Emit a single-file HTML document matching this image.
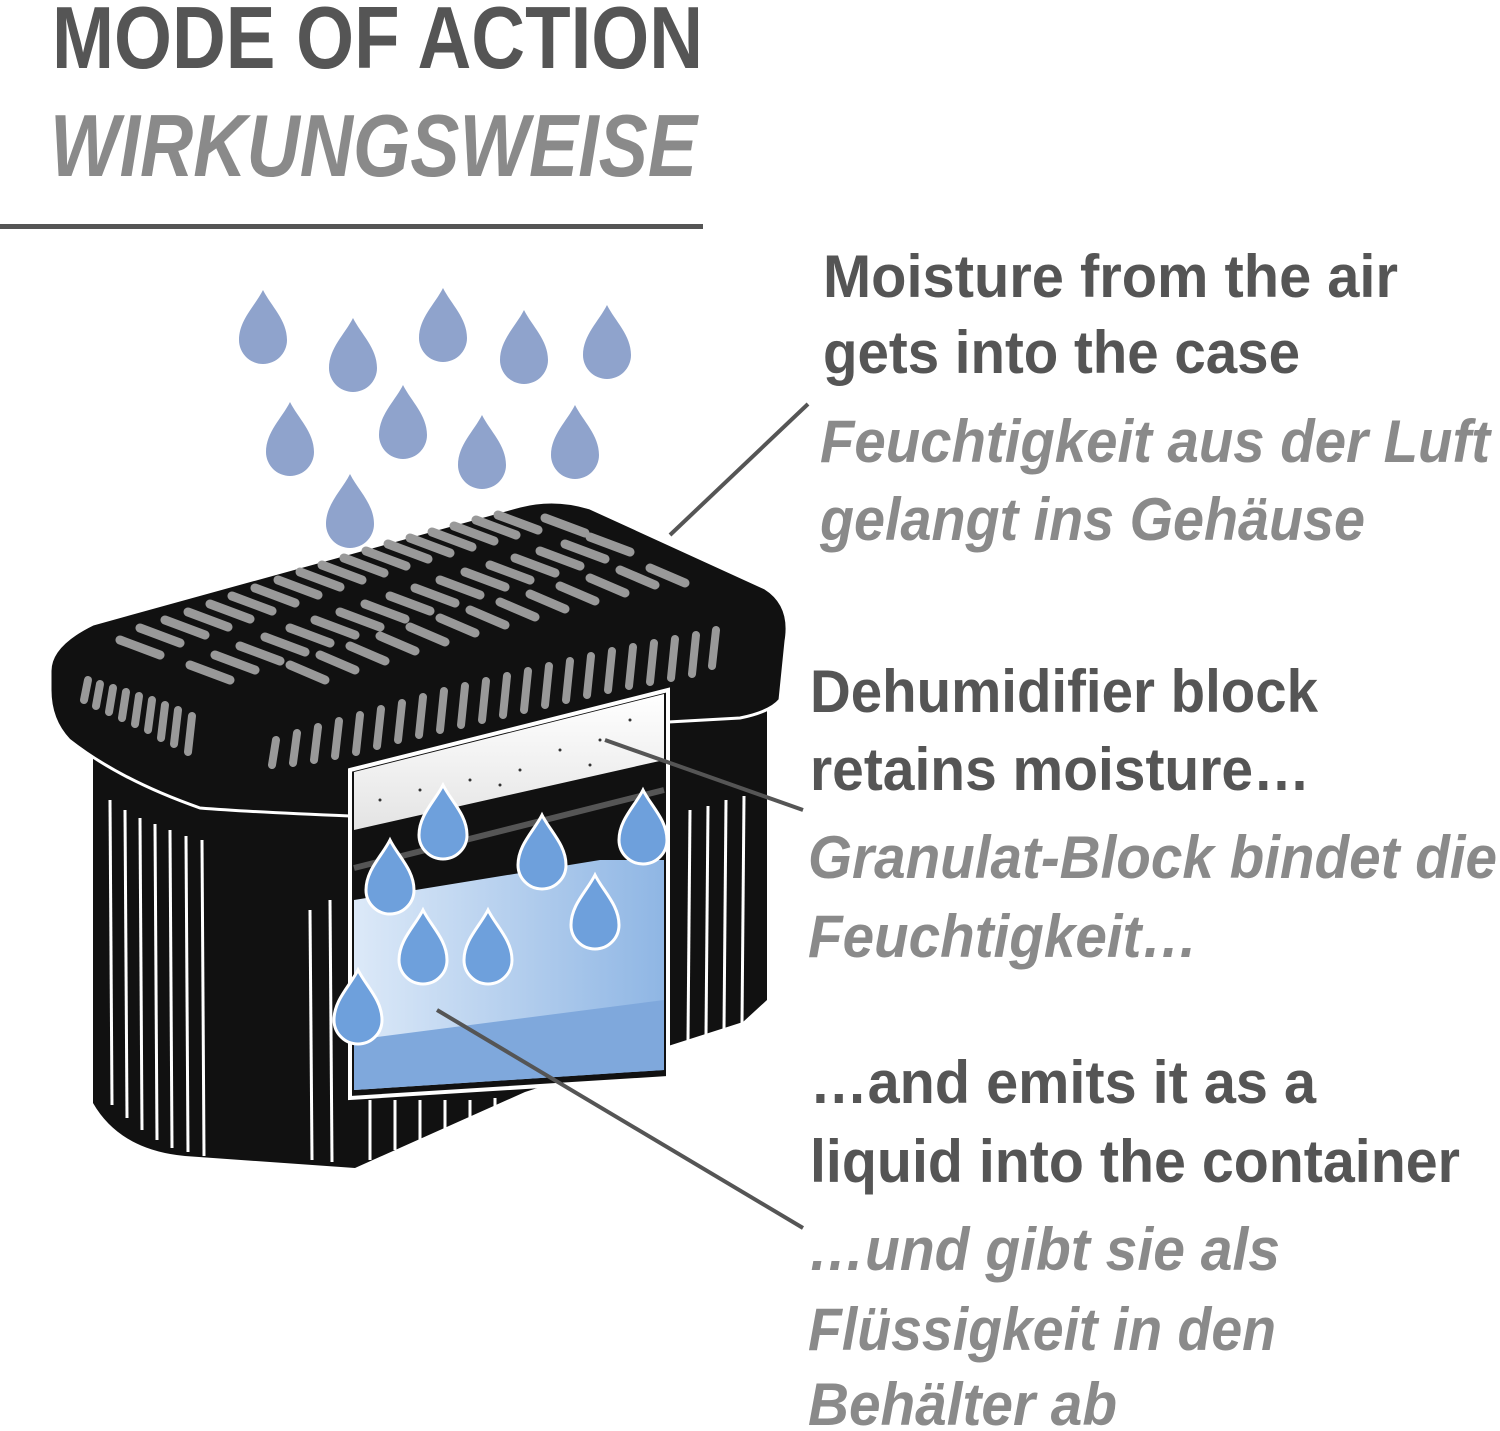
<!DOCTYPE html>
<html><head><meta charset="utf-8"><style>
html,body{margin:0;padding:0;background:#fff;}
svg{display:block}
.b{font-family:"Liberation Sans",sans-serif;font-weight:bold;fill:#555;font-size:60px}
.i{font-family:"Liberation Sans",sans-serif;font-style:italic;font-weight:bold;fill:#8a8a8a;font-size:60px}
</style></head><body>
<svg width="1500" height="1431" viewBox="0 0 1500 1431" xmlns="http://www.w3.org/2000/svg">
<defs>
<path id="d" d="M0,-40 C8,-24 24,-10 24,10 A24,24 0 0 1 -24,10 C-24,-10 -8,-24 0,-40 Z"/>
<linearGradient id="lg" x1="0" y1="0" x2="1" y2="0"><stop offset="0" stop-color="#dce9f8"/><stop offset="1" stop-color="#8fb6e4"/></linearGradient>
<linearGradient id="wg" x1="0" y1="0" x2="0" y2="1"><stop offset="0" stop-color="#fff"/><stop offset="1" stop-color="#e4e4e4"/></linearGradient>
</defs>
<!-- title -->
<text class="b" x="52" y="68" style="font-size:88px" textLength="651" lengthAdjust="spacingAndGlyphs">MODE OF ACTION</text>
<text class="i" x="50" y="176" style="font-size:88px" textLength="647" lengthAdjust="spacingAndGlyphs">WIRKUNGSWEISE</text>
<rect x="0" y="224" width="703" height="5" fill="#555"/>

<!-- falling drops -->
<g fill="#8fa3cc">
<use href="#d" transform="translate(263,330)"/>
<use href="#d" transform="translate(353,358)"/>
<use href="#d" transform="translate(443,328)"/>
<use href="#d" transform="translate(524,350)"/>
<use href="#d" transform="translate(607,345)"/>
<use href="#d" transform="translate(290,442)"/>
<use href="#d" transform="translate(403,425)"/>
<use href="#d" transform="translate(482,455)"/>
<use href="#d" transform="translate(575,445)"/>
<use href="#d" transform="translate(350,514)"/>
</g>

<!-- body -->
<path d="M93,740 L93,1103 Q120,1150 185,1156 L355,1168 L525,1092 L743,1022 L767,1000 L767,700 L668,700 Z" fill="#111"/>
<g stroke="#fff" stroke-width="3">
<line x1="110" y1="800" x2="112" y2="1105"/><line x1="125" y1="810" x2="127" y2="1118"/><line x1="140" y1="818" x2="142" y2="1130"/><line x1="155" y1="824" x2="157" y2="1140"/><line x1="170" y1="830" x2="172" y2="1148"/><line x1="186" y1="836" x2="188" y2="1152"/><line x1="202" y1="840" x2="204" y2="1156"/>
<line x1="310" y1="910" x2="312" y2="1160"/><line x1="330" y1="900" x2="332" y2="1162"/>
<line x1="690" y1="810" x2="688" y2="1040"/><line x1="708" y1="806" x2="706" y2="1035"/><line x1="726" y1="800" x2="724" y2="1030"/><line x1="744" y1="796" x2="742" y2="1024"/>
<line x1="370" y1="1100" x2="370" y2="1160"/><line x1="395" y1="1100" x2="395" y2="1150"/><line x1="420" y1="1100" x2="420" y2="1140"/><line x1="445" y1="1100" x2="445" y2="1130"/><line x1="470" y1="1100" x2="470" y2="1120"/><line x1="495" y1="1098" x2="495" y2="1112"/>
<line x1="560" y1="1080" x2="560" y2="1098"/><line x1="600" y1="1080" x2="600" y2="1086"/>
</g>
<!-- lid -->
<path d="M50,671 Q50,645 93,624 L520,506 Q555,497 590,508 L765,588 Q792,605 786,641 L780,700 Q770,712 740,718 L668,722 L668,690 L350,770 L350,816 Q250,812 200,808 Q120,780 69,740 Q50,720 50,690 Z" fill="#111" stroke="#fff" stroke-width="3"/>
<!-- top slots -->
<g stroke="#999" stroke-width="9" stroke-linecap="round">
<line x1="120" y1="640" x2="160" y2="655"/><line x1="140" y1="628" x2="180" y2="643"/><line x1="165" y1="620" x2="205" y2="635"/><line x1="188" y1="612" x2="228" y2="627"/><line x1="210" y1="604" x2="250" y2="619"/><line x1="232" y1="596" x2="272" y2="611"/><line x1="255" y1="588" x2="295" y2="603"/><line x1="278" y1="580" x2="318" y2="595"/><line x1="300" y1="572" x2="340" y2="587"/><line x1="322" y1="565" x2="362" y2="580"/><line x1="344" y1="558" x2="384" y2="573"/><line x1="366" y1="551" x2="406" y2="566"/><line x1="388" y1="544" x2="428" y2="559"/><line x1="410" y1="538" x2="450" y2="553"/><line x1="432" y1="532" x2="472" y2="547"/><line x1="454" y1="526" x2="494" y2="541"/><line x1="476" y1="520" x2="516" y2="535"/><line x1="498" y1="515" x2="538" y2="530"/><line x1="545" y1="518" x2="585" y2="533"/>
<line x1="190" y1="665" x2="230" y2="680"/><line x1="215" y1="655" x2="255" y2="670"/><line x1="240" y1="646" x2="280" y2="661"/><line x1="265" y1="637" x2="305" y2="652"/><line x1="290" y1="628" x2="330" y2="643"/><line x1="315" y1="620" x2="355" y2="635"/><line x1="340" y1="612" x2="380" y2="627"/><line x1="365" y1="604" x2="405" y2="619"/><line x1="390" y1="596" x2="430" y2="611"/><line x1="415" y1="588" x2="455" y2="603"/><line x1="440" y1="580" x2="480" y2="595"/><line x1="465" y1="572" x2="505" y2="587"/><line x1="490" y1="565" x2="530" y2="580"/><line x1="515" y1="558" x2="555" y2="573"/><line x1="540" y1="551" x2="580" y2="566"/><line x1="565" y1="544" x2="605" y2="559"/><line x1="590" y1="537" x2="630" y2="552"/>
<line x1="290" y1="665" x2="325" y2="680"/><line x1="320" y1="655" x2="355" y2="670"/><line x1="350" y1="646" x2="385" y2="661"/><line x1="380" y1="636" x2="415" y2="651"/><line x1="410" y1="627" x2="445" y2="642"/><line x1="440" y1="618" x2="475" y2="633"/><line x1="470" y1="610" x2="505" y2="625"/><line x1="500" y1="602" x2="535" y2="617"/><line x1="530" y1="594" x2="565" y2="609"/><line x1="560" y1="586" x2="595" y2="601"/><line x1="590" y1="578" x2="625" y2="593"/><line x1="620" y1="570" x2="655" y2="585"/><line x1="650" y1="568" x2="685" y2="583"/>
</g>
<!-- front slots -->
<g stroke="#999" stroke-width="8" stroke-linecap="round">
<line x1="88" y1="680" x2="84" y2="700"/><line x1="100" y1="684" x2="96" y2="706"/><line x1="113" y1="688" x2="109" y2="712"/><line x1="126" y1="692" x2="122" y2="718"/><line x1="139" y1="696" x2="135" y2="724"/><line x1="152" y1="700" x2="148" y2="730"/><line x1="165" y1="705" x2="161" y2="738"/><line x1="178" y1="710" x2="174" y2="744"/><line x1="192" y1="716" x2="188" y2="752"/>
<line x1="276" y1="740" x2="272" y2="765"/><line x1="297" y1="733" x2="293" y2="763"/><line x1="318" y1="727" x2="314" y2="760"/><line x1="339" y1="721" x2="335" y2="756"/><line x1="360" y1="715" x2="356" y2="752"/><line x1="381" y1="709" x2="377" y2="746"/><line x1="402" y1="703" x2="398" y2="740"/><line x1="423" y1="697" x2="419" y2="735"/><line x1="444" y1="691" x2="440" y2="730"/><line x1="465" y1="686" x2="461" y2="725"/><line x1="486" y1="681" x2="482" y2="720"/><line x1="507" y1="676" x2="503" y2="715"/><line x1="528" y1="671" x2="524" y2="710"/><line x1="549" y1="666" x2="545" y2="705"/><line x1="570" y1="661" x2="566" y2="700"/><line x1="591" y1="656" x2="587" y2="695"/><line x1="612" y1="651" x2="608" y2="690"/><line x1="633" y1="647" x2="629" y2="686"/><line x1="654" y1="643" x2="650" y2="682"/><line x1="675" y1="639" x2="671" y2="678"/><line x1="696" y1="635" x2="692" y2="674"/><line x1="716" y1="630" x2="712" y2="666"/>
</g>
<!-- window -->
<path d="M350,770 L668,690 L668,1078 L350,1098 Z" fill="#111" stroke="#fff" stroke-width="4"/>
<path d="M354,772 L664,694 L664,760 L354,830 Z" fill="url(#wg)"/>
<g fill="#333"><circle cx="380" cy="800" r="1.5"/><circle cx="420" cy="790" r="1.5"/><circle cx="470" cy="780" r="1.5"/><circle cx="520" cy="770" r="1.5"/><circle cx="560" cy="750" r="1.5"/><circle cx="600" cy="740" r="1.5"/><circle cx="630" cy="720" r="1.5"/><circle cx="500" cy="785" r="1.5"/><circle cx="440" cy="805" r="1.5"/><circle cx="590" cy="765" r="1.5"/></g>
<path d="M354,900 L600,860 L664,860 L664,1070 L354,1090 Z" fill="url(#lg)"/>
<path d="M354,1040 L664,1000 L664,1070 L354,1090 Z" fill="#7fa8dc"/>
<path d="M354,868 L664,790" stroke="#555" stroke-width="6"/>
<g fill="#6ea0dc" stroke="#fff" stroke-width="3">
<use href="#d" transform="translate(390,880)"/><use href="#d" transform="translate(443,825)"/><use href="#d" transform="translate(542,855)"/><use href="#d" transform="translate(643,830)"/>
<use href="#d" transform="translate(423,950)"/><use href="#d" transform="translate(488,950)"/><use href="#d" transform="translate(595,915)"/><use href="#d" transform="translate(358,1010)"/>
</g>

<!-- connectors -->
<g stroke="#555" stroke-width="4">
<line x1="670" y1="535" x2="808" y2="404"/>
<line x1="605" y1="740" x2="803" y2="810"/>
<line x1="437" y1="1010" x2="803" y2="1228"/>
</g>

<!-- texts -->
<text class="b" x="823" y="297" textLength="575" lengthAdjust="spacingAndGlyphs">Moisture from the air</text>
<text class="b" x="823" y="373" textLength="477" lengthAdjust="spacingAndGlyphs">gets into the case</text>
<text class="i" x="820" y="462" textLength="670" lengthAdjust="spacingAndGlyphs">Feuchtigkeit aus der Luft</text>
<text class="i" x="820" y="540" textLength="545" lengthAdjust="spacingAndGlyphs">gelangt ins Gehäuse</text>
<text class="b" x="810" y="712" textLength="508" lengthAdjust="spacingAndGlyphs">Dehumidifier block</text>
<text class="b" x="810" y="790" textLength="500" lengthAdjust="spacingAndGlyphs">retains moisture…</text>
<text class="i" x="808" y="878" textLength="689" lengthAdjust="spacingAndGlyphs">Granulat-Block bindet die</text>
<text class="i" x="808" y="957" textLength="390" lengthAdjust="spacingAndGlyphs">Feuchtigkeit…</text>
<text class="b" x="810" y="1103" textLength="506" lengthAdjust="spacingAndGlyphs">…and emits it as a</text>
<text class="b" x="810" y="1182" textLength="650" lengthAdjust="spacingAndGlyphs">liquid into the container</text>
<text class="i" x="808" y="1270" textLength="472" lengthAdjust="spacingAndGlyphs">…und gibt sie als</text>
<text class="i" x="808" y="1350" textLength="468" lengthAdjust="spacingAndGlyphs">Flüssigkeit in den</text>
<text class="i" x="808" y="1425" textLength="309" lengthAdjust="spacingAndGlyphs">Behälter ab</text>
</svg>
</body></html>
